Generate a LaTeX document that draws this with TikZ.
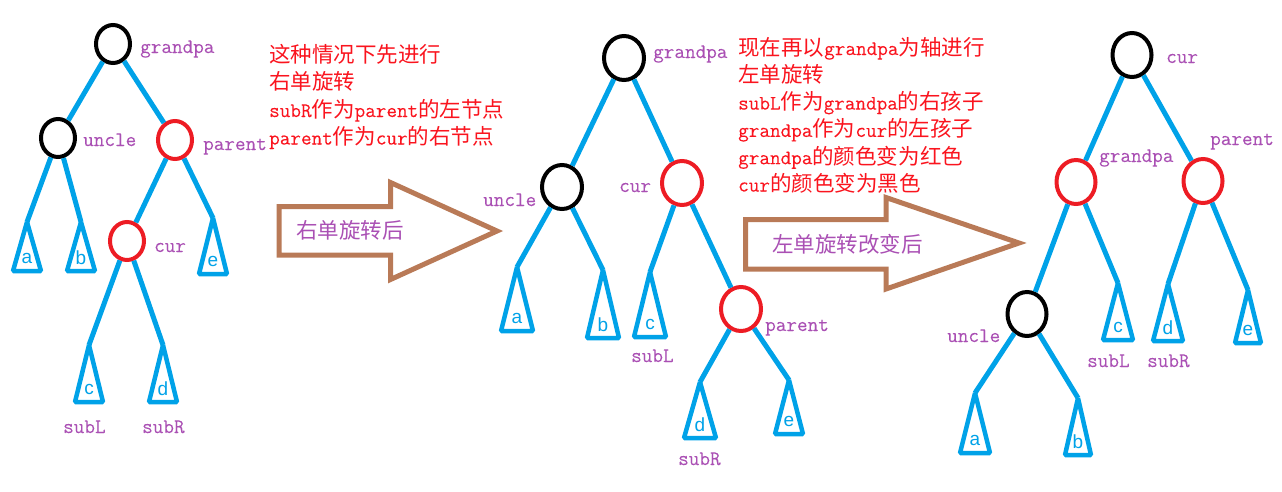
\documentclass[tikz,border=0pt]{standalone}
\usepackage{fontspec}
\setmonofont{Latin Modern Mono}[FakeBold=0.1]
\newfontfamily\cjk[Scale=1.044]{Noto Sans CJK SC}
\newfontfamily\leaffont{Liberation Sans}
\usetikzlibrary{shapes.geometric}
\definecolor{treeblue}{RGB}{0,162,232}
\definecolor{nodered}{RGB}{237,28,36}
\definecolor{arrowbrown}{RGB}{185,122,87}
\definecolor{tagpurple}{RGB}{170,80,180}
\definecolor{notered}{RGB}{250,20,30}
\tikzset{
	rb/.style={ellipse, draw, line width=4, inner sep=0},
	blk/.style={rb, draw=black},
	rd/.style={rb, draw=nodered},
	edge/.style={draw=treeblue, line width=5},
	tri/.style={draw=treeblue, line width=4.5, line join=bevel},
	leaf/.style={text=treeblue, font=\leaffont\fontsize{19}{20}\selectfont, inner sep=0},
	tag/.style={text=tagpurple, anchor=base west, inner sep=0},
	note/.style={text=notered, anchor=base west, inner sep=0},
	turn/.style={draw=arrowbrown, line width=5, line join=miter},
}
% subtree triangle: name, apex x, apex y, base y, half width, label
\newcommand\subtree[6]{%
	\coordinate (#1) at (#2,#3);
	\draw[tri] (#1) -- ++(-#5,#4-#3) -- ++(2*#5,0) -- cycle;
	\node[leaf] (#1l) at (#2,#4-13) {#6};}

\begin{document}
\begin{tikzpicture}[x=1pt,y=-1pt,font=\ttfamily\fontsize{20.6}{24}\selectfont]
		\useasboundingbox (0,0) rectangle (1282,491);

		% before rotation
		\begin{scope}[rb/.append style={minimum width=34,minimum height=38}]
		\node[blk] (g1) at (113,44) {};
		\node[blk] (u1) at (58,138) {};
		\node[rd] (p1) at (175,140) {};
		\node[rd] (c1) at (127,241) {};
		\subtree{a1}{27}{222}{271}{14}{a}
		\subtree{b1}{81}{222}{271}{14}{b}
		\subtree{e1}{213}{218}{274}{14}{e}
		\subtree{sl1}{89}{345}{402}{14}{c}
		\subtree{sr1}{163}{345}{402}{14}{d}
		\foreach \a/\b in {g1/u1,g1/p1,u1/a1,u1/b1,p1/c1,p1/e1,c1/sl1,c1/sr1}
			\draw[edge] (\a) -- (\b);
		\node[tag] (g1t) at (140,53) {grandpa};
		\node[tag] (u1t) at (83,146) {uncle};
		\node[tag] (p1t) at (203,150) {parent};
		\node[tag] (c1t) at (154,252) {cur};
		\node[tag] (sl1t) at (63,433) {subL};
		\node[tag] (sr1t) at (142,433) {subR};
		\end{scope}

		\foreach \txt [count=\k] in {{\cjk 这种情况下先进行},{\cjk 右单旋转},subR{\cjk 作为}parent{\cjk 的左节点},parent{\cjk 作为}cur{\cjk 的右节点}}
			\node[note] (ta\k) at (269,{62+27.5*(\k-1)}) {\txt};
		\draw[turn] (279,206.5) -- (390.5,206.5) -- (390.5,182.5) -- (497,231) -- (390.5,279.5) -- (390.5,255) -- (279,255) -- cycle;
		\node[tag] (turn1) at (296,238) {\cjk 右单旋转后};

		% after right rotation
		\begin{scope}[rb/.append style={minimum width=40,minimum height=44}]
		\node[blk] (g2) at (624,58) {};
		\node[blk] (u2) at (562,187) {};
		\node[rd] (c2) at (682,183) {};
		\node[rd] (p2) at (741,309) {};
		\subtree{a2}{517}{267}{331}{16}{a}
		\subtree{b2}{603}{270}{338}{16}{b}
		\subtree{sl2}{650}{272}{337}{16}{c}
		\subtree{sr2}{700}{382}{438}{16}{d}
		\subtree{e2}{789}{380}{434}{14}{e}
		\foreach \a/\b in {g2/u2,g2/c2,u2/a2,u2/b2,c2/sl2,c2/p2,p2/sr2,p2/e2}
			\draw[edge] (\a) -- (\b);
		\node[tag] (g2t) at (653,58) {grandpa};
		\node[tag] (u2t) at (483,206) {uncle};
		\node[tag] (c2t) at (619,192) {cur};
		\node[tag] (p2t) at (765,331) {parent};
		\node[tag] (sl2t) at (631,362) {subL};
		\node[tag] (sr2t) at (678,465) {subR};
		\end{scope}

		\foreach \txt [count=\k] in {{\cjk 现在再以}grandpa{\cjk 为轴进行},{\cjk 左单旋转},subL{\cjk 作为}grandpa{\cjk 的右孩子},grandpa{\cjk 作为}cur{\cjk 的左孩子},grandpa{\cjk 的颜色变为红色},cur{\cjk 的颜色变为黑色}}
			\node[note] (tb\k) at (738,{55+27.3*(\k-1)}) {\txt};
		\draw[turn] (745.5,219.5) -- (886,219.5) -- (886,197.5) -- (1019,243) -- (886,289) -- (886,269) -- (745.5,269) -- cycle;
		\node[tag] (turn2) at (772,252) {\cjk 左单旋转改变后};

		% after left rotation
		\begin{scope}[rb/.append style={minimum width=39,minimum height=44}]
		\node[blk] (c3) at (1132,55) {};
		\node[rd] (g3) at (1076,182) {};
		\node[rd] (p3) at (1203,181) {};
		\node[blk] (u3) at (1027,314) {};
		\subtree{sl3}{1118}{283}{340}{15}{c}
		\subtree{sr3}{1168}{284}{341}{15}{d}
		\subtree{e3}{1248}{290}{343}{13}{e}
		\subtree{a3}{975}{393}{453}{15}{a}
		\subtree{b3}{1078}{398}{455}{13}{b}
		\foreach \a/\b in {c3/g3,c3/p3,g3/u3,g3/sl3,p3/sr3,p3/e3,u3/a3,u3/b3}
			\draw[edge] (\a) -- (\b);
		\node[tag] (c3t) at (1166,63) {cur};
		\node[tag] (g3t) at (1099,162) {grandpa};
		\node[tag] (p3t) at (1210,145) {parent};
		\node[tag] (u3t) at (947,342) {uncle};
		\node[tag] (sl3t) at (1087,367) {subL};
		\node[tag] (sr3t) at (1147,367) {subR};
		\end{scope}
	\end{tikzpicture}
\end{document}
